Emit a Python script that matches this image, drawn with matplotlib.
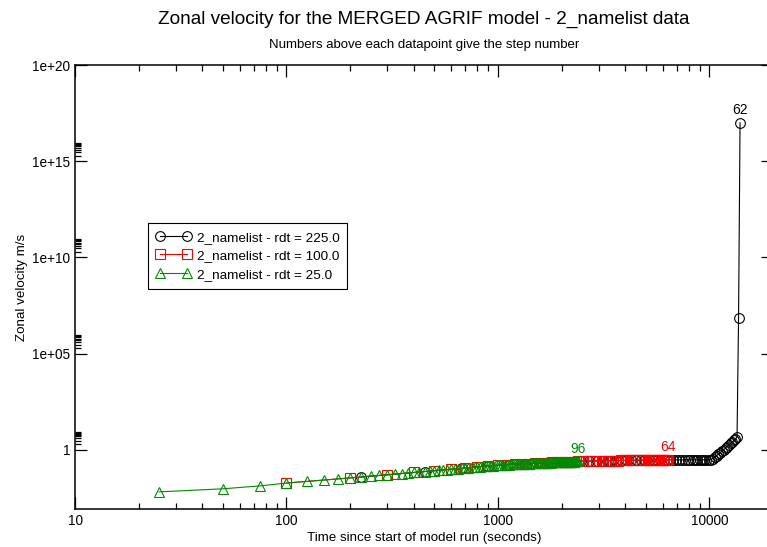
import matplotlib
matplotlib.use("Agg")
import matplotlib.pyplot as plt
from matplotlib.ticker import FixedLocator, FixedFormatter, NullFormatter
import numpy as np

plt.rcParams["font.family"] = ["Liberation Sans", "DejaVu Sans"]

# time step (seconds) of each run
rdt_225 = 225.0
rdt_100 = 100.0
rdt_25 = 25.0

# zonal velocity at each step (m/s)
vel_225 = [
    0.039, 0.075, 0.111, 0.147, 0.172, 0.193, 0.210, 0.223, 0.236, 0.248,
    0.256, 0.262, 0.268, 0.272, 0.276, 0.279, 0.282, 0.285, 0.287, 0.289,
    0.291, 0.293, 0.294, 0.296, 0.297, 0.298, 0.299, 0.300, 0.301, 0.302,
    0.302, 0.303, 0.303, 0.304, 0.304, 0.304, 0.305, 0.305, 0.305, 0.306,
    0.306, 0.307, 0.308, 0.310, 0.312, 0.350, 0.420, 0.500, 0.600, 0.720,
    0.870, 1.04, 1.25, 1.50, 1.80, 2.16, 2.60, 3.10, 3.70, 4.60,
    7.0e6, 1.0e17,
]
vel_100 = [
    0.019, 0.035, 0.051, 0.067, 0.083, 0.099, 0.115, 0.131, 0.147, 0.160,
    0.170, 0.180, 0.188, 0.196, 0.204, 0.211, 0.217, 0.223, 0.229, 0.235,
    0.240, 0.244, 0.249, 0.253, 0.257, 0.260, 0.262, 0.265, 0.267, 0.269,
    0.271, 0.273, 0.275, 0.277, 0.278, 0.279, 0.281, 0.282, 0.283, 0.285,
    0.286, 0.287, 0.288, 0.288, 0.289, 0.290, 0.291, 0.291, 0.292, 0.293,
    0.293, 0.294, 0.295, 0.295, 0.296, 0.297, 0.297, 0.298, 0.298, 0.299,
    0.299, 0.300, 0.300, 0.301,
]
vel_25 = [
    0.0066, 0.0095, 0.0135, 0.019, 0.023, 0.027, 0.031, 0.035, 0.039, 0.043,
    0.047, 0.051, 0.055, 0.059, 0.063, 0.067, 0.071, 0.075, 0.079, 0.083,
    0.087, 0.091, 0.095, 0.099, 0.103, 0.107, 0.111, 0.115, 0.119, 0.123,
    0.127, 0.131, 0.135, 0.139, 0.143, 0.147, 0.151, 0.154, 0.157, 0.160,
    0.162, 0.165, 0.167, 0.170, 0.172, 0.175, 0.177, 0.180, 0.182, 0.184,
    0.186, 0.188, 0.190, 0.192, 0.194, 0.196, 0.198, 0.200, 0.202, 0.204,
    0.206, 0.208, 0.209, 0.211, 0.212, 0.214, 0.215, 0.217, 0.218, 0.220,
    0.221, 0.223, 0.224, 0.226, 0.227, 0.229, 0.230, 0.232, 0.233, 0.235,
    0.236, 0.237, 0.239, 0.240, 0.241, 0.242, 0.243, 0.244, 0.245, 0.247,
    0.248, 0.249, 0.250, 0.251, 0.252, 0.253,
]

series = [
    ("2_namelist - rdt = 225.0", rdt_225, vel_225, "black", "o"),
    ("2_namelist - rdt = 100.0", rdt_100, vel_100, "#ff0000", "s"),
    ("2_namelist - rdt = 25.0", rdt_25, vel_25, "#008b00", "^"),
]

y_major = [1, 1e5, 1e10, 1e15, 1e20]
y_labels = ["1", "1e+05", "1e+10", "1e+15", "1e+20"]
x_major = [10, 100, 1000, 10000]
x_labels = ["10", "100", "1000", "10000"]

fig = plt.figure(figsize=(7.67, 5.47), dpi=100)
ax = fig.add_axes([0.0978, 0.0695, 0.9102, 0.8115])

for label, rdt, vel, color, marker in series:
    steps = np.arange(1, len(vel) + 1)
    t = steps * rdt
    ax.plot(t, vel, color=color, lw=0.8, marker=marker, ms=7,
            mfc="none", mec=color, mew=0.8, label=label)
    ax.annotate(str(len(vel)), (t[-1], vel[-1]), xytext=(0, 4),
                textcoords="offset points", ha="center", va="bottom",
                color=color, fontsize=10)

ax.set_xscale("log")
ax.set_yscale("log")
ax.set_xlim(10, 20000)
ax.set_ylim(8.5e-4, 1e20)

ax.xaxis.set_major_locator(FixedLocator(x_major))
ax.xaxis.set_major_formatter(FixedFormatter(x_labels))
ax.xaxis.set_minor_locator(FixedLocator(
    [m * 10 ** e for e in range(1, 5) for m in range(2, 10)]))
ax.xaxis.set_minor_formatter(NullFormatter())
ax.yaxis.set_major_locator(FixedLocator(y_major))
ax.yaxis.set_major_formatter(FixedFormatter(y_labels))
ax.yaxis.set_minor_locator(FixedLocator(
    [m * 10 ** e for e in (0, 5, 10, 15) for m in range(2, 10)]))
ax.yaxis.set_minor_formatter(NullFormatter())

ax.tick_params(which="both", direction="in", top=True, right=True,
               labelsize=9.8, width=0.9)
ax.tick_params(which="major", length=8.5)
ax.tick_params(which="minor", length=4.5)
for s in ax.spines.values():
    s.set_linewidth(1.1)

ax.set_xlabel("Time since start of model run (seconds)", fontsize=9.6,
              labelpad=3)
ax.set_ylabel("Zonal velocity m/s", fontsize=9.6, labelpad=3)

fig.text(0.553, 0.965, "Zonal velocity for the MERGED AGRIF model - 2_namelist data",
         ha="center", va="center", fontsize=13.7)
fig.text(0.553, 0.917, "Numbers above each datapoint give the step number",
         ha="center", va="center", fontsize=9.5)

leg = ax.legend(loc="upper left", bbox_to_anchor=(0.193, 0.592),
                bbox_transform=fig.transFigure, fontsize=9.7, numpoints=2,
                fancybox=False, framealpha=1, edgecolor="black",
                handlelength=2.6, borderpad=0.6, labelspacing=0.45,
                handletextpad=0.4, borderaxespad=0)
leg.get_frame().set_linewidth(0.8)

fig.savefig("out.png", dpi=100)
